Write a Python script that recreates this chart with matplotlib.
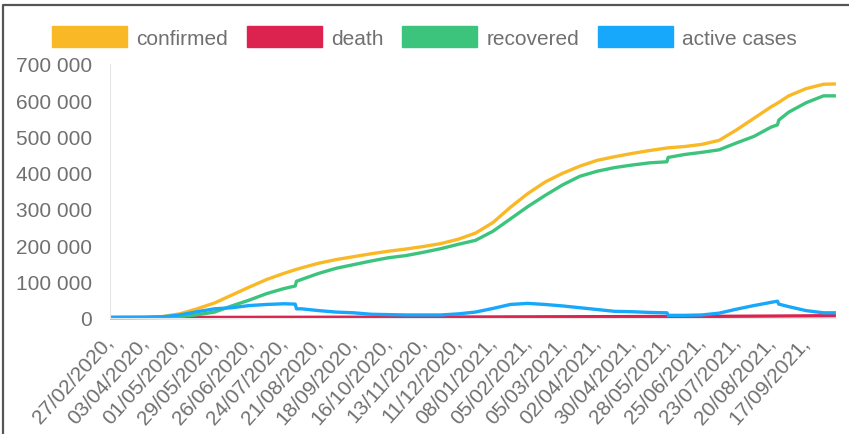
import pandas as pd
import matplotlib.pyplot as plt
from matplotlib.patches import Patch
from matplotlib.lines import Line2D
from matplotlib.ticker import FuncFormatter

plt.rcParams['font.family'] = ['Liberation Sans', 'DejaVu Sans']

# cumulative counts, sampled every two weeks (plus the jumps in recovered)
dates = ['27/02/2020', '03/04/2020', '17/04/2020', '01/05/2020', '15/05/2020', '29/05/2020',
         '12/06/2020', '26/06/2020', '10/07/2020', '24/07/2020', '02/08/2020', '03/08/2020',
         '07/08/2020', '21/08/2020', '04/09/2020', '18/09/2020', '02/10/2020', '16/10/2020',
         '30/10/2020', '13/11/2020', '27/11/2020', '11/12/2020', '25/12/2020', '08/01/2021',
         '22/01/2021', '05/02/2021', '19/02/2021', '05/03/2021', '19/03/2021', '02/04/2021',
         '16/04/2021', '30/04/2021', '14/05/2021', '28/05/2021', '29/05/2021', '11/06/2021',
         '25/06/2021', '09/07/2021', '23/07/2021', '06/08/2021', '20/08/2021', '25/08/2021',
         '26/08/2021', '03/09/2021', '17/09/2021', '01/10/2021', '11/10/2021']

confirmed = [0, 500, 2500, 10000, 24000, 40000,
             62000, 84000, 105000, 122000, 132000, 133000,
             137000, 150000, 160000, 168000, 176000, 183000,
             189000, 196000, 204000, 216000, 233000, 262000,
             304000, 342000, 374000, 398000, 418000, 434000,
             444000, 453000, 461000, 468000, 468500, 472000,
             478000, 489000, 518000, 550000, 582000, 592000,
             594000, 612000, 632000, 644000, 645000]

death = [0, 5, 20, 90, 150, 220,
         320, 400, 480, 550, 600, 600,
         620, 680, 740, 800, 860, 930,
         1000, 1080, 1180, 1280, 1400, 1520,
         1660, 1800, 1950, 2080, 2200, 2330,
         2450, 2580, 2700, 2820, 2830, 2950,
         3100, 3250, 3450, 3700, 3950, 4050,
         4070, 4250, 4550, 4850, 5000]

recovered = [0, 50, 400, 3000, 7500, 15000,
             32000, 48000, 66000, 80000, 87000, 100000,
             105000, 122000, 136000, 146000, 156000, 165000,
             171000, 180000, 190000, 202000, 213000, 238000,
             272000, 306000, 337000, 366000, 390000, 404000,
             414000, 421000, 427000, 430000, 442000, 450000,
             456000, 463000, 482000, 500000, 526000, 532000,
             545000, 567000, 593000, 612000, 612000]

active = [0, 450, 2000, 7000, 16000, 24000,
          27000, 33000, 36000, 38000, 37000, 24000,
          24000, 19000, 15000, 13000, 9000, 8000,
          7000, 7000, 7000, 10000, 15000, 25000,
          36000, 39000, 36000, 32000, 27000, 22000,
          17000, 16000, 14000, 13000, 6000, 6000,
          7000, 12000, 23000, 33000, 42000, 45000,
          37000, 30000, 19000, 13000, 13000]

tick_labels = ['27/02/2020,', '03/04/2020,', '01/05/2020,', '29/05/2020,', '26/06/2020,',
               '24/07/2020,', '21/08/2020,', '18/09/2020,', '16/10/2020,', '13/11/2020,',
               '11/12/2020,', '08/01/2021,', '05/02/2021,', '05/03/2021,', '02/04/2021,',
               '30/04/2021,', '28/05/2021,', '25/06/2021,', '23/07/2021,', '20/08/2021,',
               '17/09/2021,']

first_report = pd.Timestamp(2020, 2, 27)
daily_start = pd.Timestamp(2020, 4, 3)


def report_no(d):
    # reports are daily from 03/04/2020, before that there were 28 of them
    d = pd.to_datetime(d, dayfirst=True)
    if d < daily_start:
        return (d - first_report).days * 28 / (daily_start - first_report).days
    return 28 + (d - daily_start).days


x = [report_no(d) for d in dates]

series = [('confirmed', confirmed, '#f9b927'),
          ('death', death, '#dc2350'),
          ('recovered', recovered, '#3cc47c'),
          ('active cases', active, '#18a8fb')]

fig = plt.figure(figsize=(8.49, 4.35), dpi=100)
ax = fig.add_axes([0.1296, 0.2678, 0.855, 0.5828])

for name, values, color in series:
    ax.plot(x, values, color=color, lw=2.4, clip_on=False, solid_capstyle='butt')

ax.set_xlim(0, x[-1])
ax.set_ylim(0, 700000)
ax.set_yticks(range(0, 700001, 100000))
ax.yaxis.set_major_formatter(FuncFormatter(lambda v, p: f'{v:,.0f}'.replace(',', ' ')))
ax.set_xticks([report_no(t.rstrip(',')) for t in tick_labels])
ax.set_xticklabels(tick_labels, rotation=48, ha='right', va='center',
                   rotation_mode='anchor')

for side in ['top', 'right']:
    ax.spines[side].set_visible(False)
for side in ['left', 'bottom']:
    ax.spines[side].set_color('#e6e6e6')
ax.tick_params(length=0, colors='#707070', labelsize=15)
ax.tick_params(axis='y', pad=13)
ax.tick_params(axis='x', pad=15)

handles = [Patch(facecolor=c, edgecolor=c, label=n) for n, v, c in series]
leg = fig.legend(handles=handles, loc='center', bbox_to_anchor=(0.5, 0.913), ncol=4,
                 frameon=False, fontsize=15, handlelength=3.6, handleheight=1.2,
                 handletextpad=0.45, columnspacing=0.9, borderaxespad=0)
for t in leg.get_texts():
    t.set_color('#707070')

# frame of the panel
fig.add_artist(Line2D([0.004, 0.004, 1], [0, 0.986, 0.986], color='#555555', lw=1.6))

plt.savefig('out.png')
